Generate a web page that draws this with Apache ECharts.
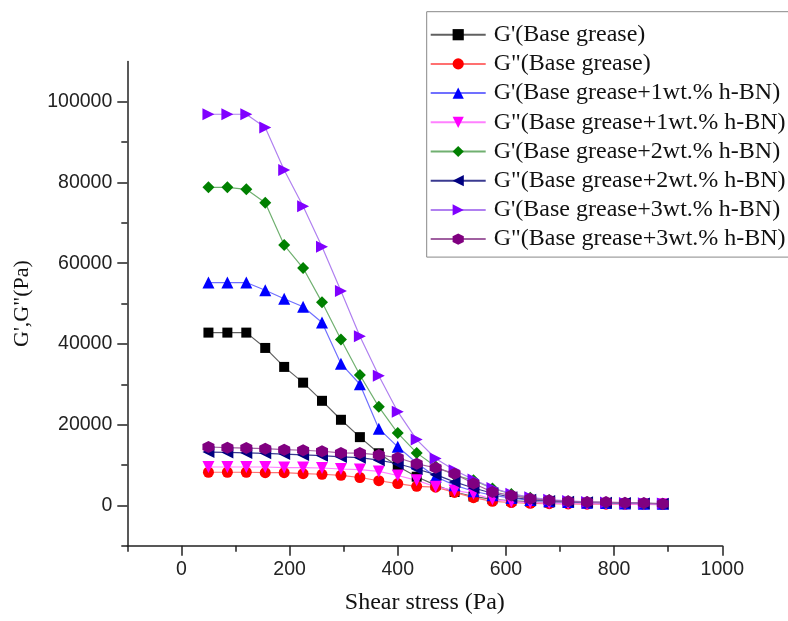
<!DOCTYPE html>
<html><head><meta charset="utf-8">
<script src="https://cdn.jsdelivr.net/npm/echarts@6/dist/echarts.min.js"></script>
<style>html,body{margin:0;padding:0;background:#fff}#c{width:788px;height:621px}</style>
</head><body><div id="c"></div>
<script>
// Shear stress (Pa)
var stress = [50,85,120,155,190,225,260,295,330,365,400,435,470,505,540,575,610,645,680,715,750,785,820,855,890];
var seriesNames = ["G'(Base grease)","G\"(Base grease)","G'(Base grease+1wt.% h-BN)","G\"(Base grease+1wt.% h-BN)","G'(Base grease+2wt.% h-BN)","G\"(Base grease+2wt.% h-BN)","G'(Base grease+3wt.% h-BN)","G\"(Base grease+3wt.% h-BN)"];
var gp_base   = [42800,42800,42800,39000,34300,30400,25900,21200,16900,12900,9700,7100,5000,3300,2200,1500,1100,900,700,600,500,450,400,350,300];
var gpp_base  = [8200,8200,8200,8100,8100,7850,7700,7440,6900,6100,5400,4700,4500,3200,1900,1000,700,500,400,350,300,300,250,250,200];
var gp_1      = [55200,55200,55200,53300,51200,49200,45300,35100,30000,19000,14500,10500,7100,5000,3500,2500,1800,1300,1000,800,650,550,480,420,380];
var gpp_1     = [9500,9500,9500,9500,9350,9350,9250,9000,8850,8400,7400,6200,4600,3700,2900,1500,900,700,550,450,400,350,300,300,250];
var gp_2      = [78800,78800,78300,75000,64500,58800,50300,41100,32300,24400,17900,13000,9600,7500,6200,4200,2800,1900,1300,1000,800,650,550,480,420];
var gpp_2     = [13200,13100,13000,12900,12700,12500,12300,12000,11800,11200,10300,9000,7600,5800,4300,3000,2000,1400,1100,900,750,650,550,480,400];
var gp_3      = [96900,96900,96900,93600,83100,74100,64100,53100,41900,32100,23200,16300,11600,8700,6400,4300,2900,2000,1400,1100,850,700,600,500,450];
var gpp_3     = [14450,14300,14200,14050,13800,13650,13400,13000,12950,12500,11800,10300,9300,7850,5400,3300,2450,1650,1250,1000,820,800,670,570,420];
var xLabelValues = [0,200,400,600,800,1000];
var xMinorValues = [-100,100,300,500,700,900];
var yLabelValues = [0,20000,40000,60000,80000,100000];
var yMinorValues = [-10000,10000,30000,50000,70000,90000];

var allData = [gp_base,gpp_base,gp_1,gpp_1,gp_2,gpp_2,gp_3,gpp_3];
var markerColors = ['#000000','#ff0000','#0000ff','#ff00ff','#008000','#000080','#8000ff','#800080'];
var lineColors = ['#606060','#ff7070','#7070ff','#ff80ff','#70b070','#3a3a90','#b080f0','#a060a0'];
var symbols = ['rect','circle','triangle','path://M0,0 L10,0 L5,9 Z','diamond','path://M9,0 L9,10 L0,5 Z','path://M0,0 L0,10 L9,5 Z','path://M5,0 L9.33,2.5 L9.33,7.5 L5,10 L0.67,7.5 L0.67,2.5 Z'];
var sizes = [10,11,12,12,12,12,12,12];

var chart = echarts.init(document.getElementById('c'), null, {renderer:'canvas'});
var series = allData.map(function(d,k){
  return {
    name: seriesNames[k], type:'line', xAxisIndex:0, yAxisIndex:0,
    data: d.map(function(v,i){return [stress[i], v];}),
    symbol: symbols[k], symbolSize: sizes[k], showSymbol:true,
    itemStyle:{color:markerColors[k], borderWidth:0},
    lineStyle:{color:lineColors[k], width:1.2},
    emphasis:{disabled:true}, animation:false
  };
});
var axisLineStyle = {color:'#222', width:1.5};
var labelFont = {fontFamily:'Liberation Sans', fontSize:19.5, color:'#222'};
function plain(v){ return String(v); }
chart.setOption({
  animation:false,
  grid:{left:127.3, right:65.7, top:61.4, bottom:75.3, containLabel:false},
  legend:{
    orient:'vertical', left:426.7, top:11.7,
    padding:[11,40,6,3], itemGap:5.2, itemWidth:55, itemHeight:14,
    borderColor:'#888', borderWidth:1, backgroundColor:'#fff',
    textStyle:{fontFamily:'Liberation Serif', fontSize:24, lineHeight:24, color:'#111', padding:[0,0,0,3]},
    data: seriesNames
  },
  xAxis:[{
    type:'value', min:-100, max:1000,
    name:'Shear stress (Pa)', nameLocation:'middle', nameGap:45,
    nameTextStyle:{fontFamily:'Liberation Serif', fontSize:24, color:'#111'},
    axisLine:{show:true, onZero:false, lineStyle:axisLineStyle},
    axisTick:{show:true, inside:false, length:10, customValues:xLabelValues, lineStyle:axisLineStyle},
    axisLabel:Object.assign({margin:14, customValues:xLabelValues, formatter:plain}, labelFont),
    splitLine:{show:false}
  },{
    type:'value', min:-100, max:1000, position:'bottom', gridIndex:0,
    axisLine:{show:false, onZero:false}, axisLabel:{show:false}, splitLine:{show:false},
    axisTick:{show:true, inside:false, length:6, customValues:xMinorValues, lineStyle:axisLineStyle}
  }],
  yAxis:[{
    type:'value', min:-10000, max:110000,
    name:'G\',G"(Pa)', nameLocation:'middle', nameGap:94,
    nameTextStyle:{fontFamily:'Liberation Serif', fontSize:22, color:'#111'},
    axisLine:{show:true, onZero:false, lineStyle:axisLineStyle},
    axisTick:{show:true, inside:false, length:10, customValues:yLabelValues, lineStyle:axisLineStyle},
    axisLabel:Object.assign({margin:15, customValues:yLabelValues, formatter:plain}, labelFont),
    splitLine:{show:false}
  },{
    type:'value', min:-10000, max:110000, position:'left', gridIndex:0,
    axisLine:{show:false, onZero:false}, axisLabel:{show:false}, splitLine:{show:false},
    axisTick:{show:true, inside:false, length:6, customValues:yMinorValues, lineStyle:axisLineStyle}
  }],
  series: series
});
</script>
</body></html>
